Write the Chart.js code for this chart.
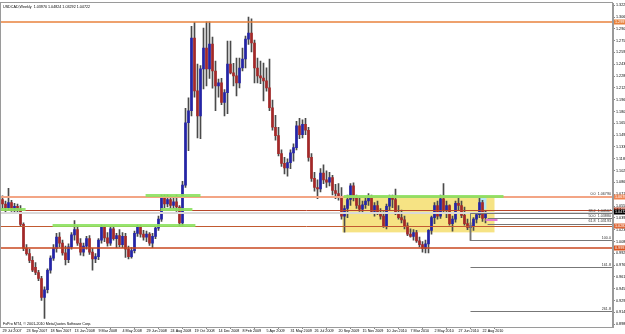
<!DOCTYPE html>
<html>
<head>
<meta charset="utf-8">
<script src="https://cdn.jsdelivr.net/npm/chart.js@4.4.0/dist/chart.umd.min.js"></script>
<style>
  html, body { margin: 0; padding: 0; background: #fff; overflow: hidden; }
  #wrap { width: 625px; height: 334px; }
</style>
</head>
<body>
<div id="wrap"><canvas id="chart" width="625" height="334"></canvas></div>
<script>
// USDCAD weekly, one bar per week from 29 Jul 2007
const dateLabels = ["29 Jul 2007", "23 Sep 2007", "18 Nov 2007", "13 Jan 2008", "9 Mar 2008", "4 May 2008",
  "29 Jun 2008", "24 Aug 2008", "19 Oct 2008", "14 Dec 2008", "8 Feb 2009", "5 Apr 2009", "31 May 2009",
  "26 Jul 2009", "20 Sep 2009", "15 Nov 2009", "10 Jan 2010", "7 Mar 2010", "2 May 2010", "27 Jun 2010", "22 Aug 2010"];

const opens = [
  1.0640, 1.0580, 1.0530, 1.0600, 1.0510, 1.0550, 1.0510, 1.0310, 0.9990, 0.9920,
  0.9830, 0.9740, 0.9670, 0.9590, 0.9340, 0.9440, 0.9700, 0.9860, 0.9990, 1.0140,
  1.0060, 0.9930, 0.9840, 1.0010, 1.0170, 1.0240, 1.0060, 0.9940, 1.0020, 1.0120,
  0.9940, 0.9850, 0.9880, 1.0100, 1.0270, 1.0130, 1.0060, 1.0250, 1.0120, 1.0160,
  1.0040, 1.0150, 0.9980, 0.9880, 0.9960, 1.0190, 1.0270, 1.0180, 1.0140, 1.0180,
  1.0060, 1.0150, 1.0260, 1.0380, 1.0660, 1.0580, 1.0640, 1.0560, 1.0610, 1.0540,
  1.0330, 1.0830, 1.1660, 1.1820, 1.2785, 1.2083, 1.1752, 1.2375, 1.2653, 1.2375,
  1.2706, 1.2348, 1.2150, 1.2190, 1.1930, 1.2060, 1.2441, 1.2322, 1.2282, 1.2190,
  1.2388, 1.2507, 1.2772, 1.2851, 1.2720, 1.2388, 1.2282, 1.2255, 1.2216, 1.2124,
  1.1859, 1.1600, 1.1488, 1.1250, 1.1120, 1.1060, 1.1130, 1.1260, 1.1330, 1.1620,
  1.1500, 1.1640, 1.1560, 1.1200, 1.0920, 1.0800, 1.0780, 1.0990, 1.0900, 1.0870,
  1.0930, 1.0760, 1.0720, 1.0680, 1.0420, 1.0520, 1.0640, 1.0820, 1.0660, 1.0560,
  1.0510, 1.0570, 1.0620, 1.0660, 1.0480, 1.0560, 1.0470, 1.0420, 1.0290, 1.0550,
  1.0670, 1.0640, 1.0470, 1.0400, 1.0370, 1.0290, 1.0180, 1.0150, 1.0200, 1.0090,
  1.0040, 0.9990, 1.0050, 1.0230, 1.0400, 1.0560, 1.0420, 1.0650, 1.0500, 1.0560,
  1.0320, 1.0380, 1.0590, 1.0560, 1.0430, 1.0320, 1.0270, 1.0290, 1.0380, 1.0440,
  1.0600, 1.0397
];
const highs = [
  1.0690, 1.0620, 1.0790, 1.0630, 1.0590, 1.0580, 1.0560, 1.0330, 1.0040, 0.9980,
  0.9880, 0.9800, 0.9700, 0.9620, 0.9480, 0.9720, 0.9890, 1.0040, 1.0190, 1.0200,
  1.0100, 1.0020, 1.0050, 1.0200, 1.0360, 1.0290, 1.0120, 1.0060, 1.0150, 1.0160,
  0.9990, 0.9920, 1.0120, 1.0300, 1.0290, 1.0200, 1.0270, 1.0280, 1.0190, 1.0240,
  1.0200, 1.0190, 1.0020, 1.0000, 1.0220, 1.0300, 1.0300, 1.0230, 1.0220, 1.0200,
  1.0190, 1.0280, 1.0420, 1.0700, 1.0700, 1.0700, 1.0690, 1.0680, 1.0700, 1.0560,
  1.0880, 1.1850, 1.1990, 1.2940, 1.2995, 1.2440, 1.2420, 1.2918, 1.3000, 1.3000,
  1.2800, 1.2480, 1.2240, 1.2250, 1.2100, 1.2745, 1.2745, 1.2450, 1.2520, 1.2520,
  1.2653, 1.2812, 1.3063, 1.3040, 1.2760, 1.2520, 1.2480, 1.2454, 1.2390, 1.2507,
  1.1960, 1.1760, 1.1600, 1.1300, 1.1200, 1.1180, 1.1300, 1.1380, 1.1680, 1.1720,
  1.1700, 1.1720, 1.1600, 1.1250, 1.1000, 1.0900, 1.1050, 1.1100, 1.1020, 1.1000,
  1.0960, 1.0840, 1.0850, 1.0800, 1.0560, 1.0700, 1.0850, 1.0860, 1.0700, 1.0660,
  1.0620, 1.0680, 1.0720, 1.0700, 1.0600, 1.0620, 1.0520, 1.0480, 1.0580, 1.0700,
  1.0700, 1.0780, 1.0560, 1.0500, 1.0420, 1.0330, 1.0250, 1.0240, 1.0230, 1.0140,
  1.0080, 1.0100, 1.0240, 1.0420, 1.0600, 1.0620, 1.0700, 1.0850, 1.0620, 1.0570,
  1.0420, 1.0620, 1.0680, 1.0620, 1.0540, 1.0380, 1.0330, 1.0400, 1.0470, 1.0679,
  1.0630, 1.0482
];
const lows = [
  1.0520, 1.0470, 1.0500, 1.0480, 1.0460, 1.0470, 1.0290, 0.9960, 0.9900, 0.9800,
  0.9680, 0.9640, 0.9560, 0.9300, 0.9060, 0.9400, 0.9660, 0.9830, 0.9940, 1.0010,
  0.9900, 0.9770, 0.9800, 0.9980, 1.0100, 1.0030, 0.9900, 0.9890, 0.9980, 0.9910,
  0.9700, 0.9800, 0.9840, 1.0060, 1.0080, 1.0020, 1.0030, 1.0100, 1.0000, 1.0010,
  1.0000, 0.9870, 0.9850, 0.9860, 0.9930, 1.0150, 1.0140, 1.0100, 1.0080, 1.0030,
  1.0000, 1.0120, 1.0230, 1.0350, 1.0530, 1.0540, 1.0520, 1.0520, 1.0480, 1.0290,
  1.0300, 1.0800, 1.1290, 1.1750, 1.2000, 1.1460, 1.1448, 1.2110, 1.2150, 1.2250,
  1.2120, 1.1820, 1.2000, 1.1900, 1.1750, 1.1780, 1.2310, 1.2150, 1.2017, 1.2124,
  1.2348, 1.2388, 1.2700, 1.2600, 1.2190, 1.2190, 1.2180, 1.1951, 1.2080, 1.1819,
  1.1560, 1.1430, 1.1220, 1.1080, 1.0980, 1.0950, 1.1050, 1.1150, 1.1300, 1.1450,
  1.1460, 1.1500, 1.1150, 1.0880, 1.0750, 1.0650, 1.0740, 1.0850, 1.0800, 1.0820,
  1.0700, 1.0650, 1.0630, 1.0380, 1.0206, 1.0400, 1.0560, 1.0620, 1.0520, 1.0480,
  1.0460, 1.0520, 1.0560, 1.0450, 1.0420, 1.0440, 1.0380, 1.0270, 1.0250, 1.0500,
  1.0530, 1.0440, 1.0380, 1.0330, 1.0250, 1.0160, 1.0140, 1.0100, 1.0070, 1.0010,
  0.9940, 0.9929, 0.9930, 1.0180, 1.0320, 1.0380, 1.0390, 1.0450, 1.0400, 1.0300,
  1.0220, 1.0340, 1.0490, 1.0400, 1.0300, 1.0240, 1.0097, 1.0230, 1.0330, 1.0400,
  1.0350, 1.0329
];
const closes = [
  1.0580, 1.0530, 1.0600, 1.0510, 1.0550, 1.0510, 1.0310, 0.9990, 0.9920, 0.9830,
  0.9700, 0.9670, 0.9590, 0.9340, 0.9440, 0.9700, 0.9860, 0.9990, 1.0140, 1.0060,
  0.9930, 0.9840, 1.0010, 1.0170, 1.0240, 1.0060, 0.9940, 1.0020, 1.0120, 0.9940,
  0.9850, 0.9880, 1.0100, 1.0270, 1.0130, 1.0060, 1.0250, 1.0120, 1.0160, 1.0040,
  1.0150, 0.9980, 0.9880, 0.9960, 1.0190, 1.0270, 1.0180, 1.0140, 1.0180, 1.0060,
  1.0150, 1.0260, 1.0380, 1.0660, 1.0580, 1.0640, 1.0560, 1.0610, 1.0540, 1.0330,
  1.0830, 1.1660, 1.1820, 1.2785, 1.2083, 1.1752, 1.2375, 1.2653, 1.2375, 1.2706,
  1.2348, 1.2150, 1.2190, 1.1930, 1.2060, 1.2441, 1.2322, 1.2282, 1.2190, 1.2388,
  1.2507, 1.2772, 1.2851, 1.2720, 1.2388, 1.2282, 1.2255, 1.2216, 1.2124, 1.1859,
  1.1600, 1.1488, 1.1250, 1.1120, 1.1060, 1.1130, 1.1260, 1.1330, 1.1620, 1.1500,
  1.1640, 1.1560, 1.1200, 1.0920, 1.0800, 1.0780, 1.0990, 1.0900, 1.0870, 1.0930,
  1.0760, 1.0720, 1.0680, 1.0420, 1.0520, 1.0640, 1.0820, 1.0660, 1.0560, 1.0510,
  1.0570, 1.0620, 1.0660, 1.0480, 1.0560, 1.0470, 1.0420, 1.0290, 1.0550, 1.0670,
  1.0640, 1.0470, 1.0400, 1.0370, 1.0290, 1.0180, 1.0150, 1.0200, 1.0090, 1.0040,
  0.9990, 1.0050, 1.0230, 1.0400, 1.0560, 1.0420, 1.0650, 1.0500, 1.0560, 1.0320,
  1.0380, 1.0590, 1.0560, 1.0430, 1.0320, 1.0270, 1.0290, 1.0380, 1.0440, 1.0600,
  1.0390, 1.0472
];

// price scale labels on the right
const yTicks = [1.32220, 1.30650, 1.29080, 1.27510, 1.25940, 1.24370, 1.22800, 1.21230, 1.19660, 1.18090,
  1.16520, 1.14950, 1.13380, 1.11810, 1.10240, 1.08670, 1.07100, 1.05530, 1.03960, 1.02390,
  1.00820, 0.99250, 0.97680, 0.96110, 0.94540, 0.92970, 0.91400, 0.89830];

// full width horizontal lines
const levelPrices = [1.2997, 1.0679, 1.0495, 1.0462, 1.0283, 0.9991];
// green support/resistance segments (bar index from..to, price)
const greenFrom = [-0.7, 16.7, 47.7, 52.7, 113.7];
const greenTo = [7.7, 64.3, 66.0, 63.3, 167.0];
const greenPrice = [1.0508, 1.0301, 1.0706, 1.0508, 1.0693];
// rectangles (bar index from..to, price top..bottom)
const rectFrom = [113.3, 158.7];
const rectTo = [164.0, 161.3];
const rectTop = [1.0679, 1.0666];
const rectBottom = [1.0203, 1.0508];
// fibonacci retracement
const fibHigh = 1.0679;
const fibLow = 1.0097;
const fibRatios = [38.2, 50.0, 61.8, 100.0, 161.8, 261.8];
const fibStart = [156, 161.7, 161.7, 156, 156, 156];
// price marks on the axis
const axisMarks = [1.2997, 1.0679, 1.0495, 1.04722, 1.0283, 0.9991];
const pinkFrom = 161, pinkTo = 165, pinkPrice = 1.0362;

const titleText = "USDCAD,Weekly  1.03970 1.04824 1.03292 1.04722";
const footText = "FxPro MT4, \u00a9 2001-2010 MetaQuotes Software Corp.";

const levelColors = ["#e8823c", "#f3a585", "#b8462a", "#d9d9d9", "#c25a31", "#c9471f"];
const levelWidths = [1.5, 2, 1, 2, 1, 1.5];
const markColors = ["#e8823c", "#f08552", "#a8391f", "#000000", "#e06a3a", "#d9541f"];
const rectColors = ["#f6e384", "#b3e6f5"];
const UP = "#2424a8", DOWN = "#a52828", WICK = "#4a4a4a";
const FONT = '3.7px "Liberation Sans"';

const wickData = highs.map((h, i) => ({ x: i, y: [lows[i], h] }));
const bodyData = opens.map((o, i) => ({ x: i, y: [o, closes[i]] }));
const bodyColors = opens.map((o, i) => (closes[i] >= o ? UP : DOWN));

function priceText(v) {
  return v.toFixed(5);
}

const overlay = {
  id: "overlay",
  beforeDatasetsDraw(chart) {
    const { ctx, chartArea: a, scales: { x, y } } = chart;
    ctx.save();
    ctx.beginPath();
    ctx.rect(a.left, a.top, a.right - a.left, a.bottom - a.top);
    ctx.clip();
    rectFrom.forEach((f, k) => {
      const x1 = x.getPixelForValue(f), x2 = x.getPixelForValue(rectTo[k]);
      const y1 = y.getPixelForValue(rectTop[k]), y2 = y.getPixelForValue(rectBottom[k]);
      ctx.fillStyle = rectColors[k];
      ctx.fillRect(x1, y1, x2 - x1, y2 - y1);
    });
    ctx.restore();
  },
  afterDatasetsDraw(chart) {
    const { ctx, chartArea: a, scales: { x, y } } = chart;
    ctx.save();
    ctx.beginPath();
    ctx.rect(a.left, a.top, a.right - a.left, a.bottom - a.top);
    ctx.clip();
    const hline = (x1, x2, v, color, w) => {
      let py = y.getPixelForValue(v);
      py = w % 2 === 1 ? Math.round(py) + 0.5 : Math.round(py);
      ctx.strokeStyle = color;
      ctx.lineWidth = w;
      ctx.beginPath();
      ctx.moveTo(x1, py);
      ctx.lineTo(x2, py);
      ctx.stroke();
    };
    levelPrices.forEach((v, k) => hline(a.left, a.right, v, levelColors[k], levelWidths[k]));
    greenPrice.forEach((v, k) => hline(x.getPixelForValue(greenFrom[k]), x.getPixelForValue(greenTo[k]), v, "rgba(140,225,95,0.9)", 3));
    // fibonacci lines
    const span = fibHigh - fibLow;
    fibRatios.forEach((r, k) => {
      const v = fibHigh - span * r / 100;
      hline(x.getPixelForValue(fibStart[k]), a.right, v, "#777777", 1);
    });
    const vx = Math.round(x.getPixelForValue(156)) + 0.5;
    ctx.strokeStyle = "#777777";
    ctx.lineWidth = 1;
    ctx.beginPath();
    ctx.moveTo(vx, y.getPixelForValue(fibHigh - span * 0.382));
    ctx.lineTo(vx, y.getPixelForValue(fibLow));
    ctx.stroke();
    hline(x.getPixelForValue(pinkFrom), x.getPixelForValue(pinkTo), pinkPrice, "#e27ad2", 2);

    // fib labels
    ctx.font = FONT;
    ctx.fillStyle = "#333333";
    ctx.textAlign = "right";
    ctx.textBaseline = "bottom";
    ctx.fillText("0.0  " + priceText(fibHigh), a.right - 2, y.getPixelForValue(fibHigh) - 1);
    fibRatios.forEach((r, k) => {
      const v = fibHigh - span * r / 100;
      const t = r < 100 ? r.toFixed(1) + "  " + priceText(v) : r.toFixed(1);
      ctx.fillText(t, a.right - 2, y.getPixelForValue(v) - 0.5);
    });
    // header and footer text
    ctx.textAlign = "left";
    ctx.textBaseline = "top";
    ctx.fillStyle = "#000000";
    ctx.fillText(titleText, a.left + 3, a.top + 2);
    ctx.textBaseline = "bottom";
    ctx.fillText(footText, a.left + 3, a.bottom - 1);
    ctx.restore();
  },
  afterDraw(chart) {
    const { ctx, chartArea: a, scales: { y } } = chart;
    ctx.save();
    // frame
    ctx.strokeStyle = "#9a9a9a";
    ctx.lineWidth = 1;
    ctx.strokeRect(Math.round(a.left) + 0.5, Math.round(a.top) - 0.5, Math.round(a.right - a.left) - 1, Math.round(a.bottom - a.top) + 1);
    // price marks on the axis
    ctx.font = FONT;
    ctx.textAlign = "left";
    ctx.textBaseline = "middle";
    axisMarks.forEach((v, k) => {
      const py = Math.round(y.getPixelForValue(v));
      ctx.fillStyle = markColors[k];
      ctx.fillRect(a.right + 1, py - 2.5, 14, 5);
      ctx.fillStyle = "#ffffff";
      ctx.fillText(priceText(v), a.right + 2, py);
    });
    ctx.restore();
  }
};

new Chart(document.getElementById("chart"), {
  type: "bar",
  data: {
    datasets: [
      { data: wickData, backgroundColor: WICK, barThickness: 1, grouped: false, order: 2 },
      { data: bodyData, backgroundColor: bodyColors, barThickness: 2, minBarLength: 1, grouped: false, order: 1 }
    ]
  },
  options: {
    responsive: false,
    animation: false,
    devicePixelRatio: 1,
    layout: { padding: { top: 2, left: 0, right: 0, bottom: 0 } },
    plugins: { legend: { display: false }, tooltip: { enabled: false }, title: { display: false } },
    scales: {
      x: {
        type: "linear",
        offset: false,
        min: -0.8333,
        max: 203.5,
        afterBuildTicks: (s) => { s.ticks = dateLabels.map((d, i) => ({ value: i * 8 })); },
        afterFit: (s) => { s.height = 7; },
        ticks: {
          callback: (v, i) => dateLabels[i],
          font: { family: "Liberation Sans", size: 3.7 },
          color: "#000",
          align: "start",
          autoSkip: false,
          maxRotation: 0,
          padding: 0
        },
        grid: { drawOnChartArea: false, tickLength: 2, color: "#888" },
        border: { color: "#9a9a9a" }
      },
      y: {
        position: "right",
        min: 0.89455,
        max: 1.32485,
        afterBuildTicks: (s) => { s.ticks = yTicks.map((v) => ({ value: v })); },
        afterFit: (s) => { s.width = 12; },
        ticks: {
          callback: (v) => priceText(v),
          font: { family: "Liberation Sans", size: 3.7 },
          color: "#000",
          padding: 1
        },
        grid: { drawOnChartArea: false, tickLength: 2, color: "#888" },
        border: { color: "#9a9a9a" }
      }
    }
  },
  plugins: [overlay]
});
</script>
</body>
</html>
